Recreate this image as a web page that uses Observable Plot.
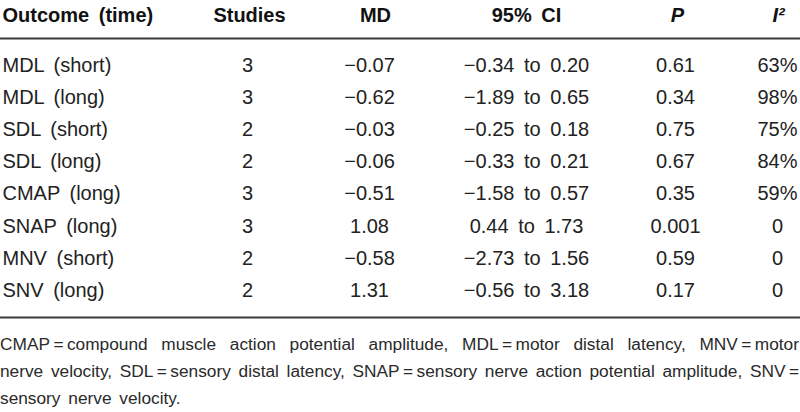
<!DOCTYPE html>
<html>
<head>
<meta charset="utf-8">
<script src="https://cdn.jsdelivr.net/npm/d3@7"></script>
<script src="https://cdn.jsdelivr.net/npm/@observablehq/plot@0.6"></script>
<style>
  html, body { margin: 0; padding: 0; background: #fff; }
  #fig { width: 800px; height: 412px; overflow: hidden; }
  .note { font-family: "Liberation Sans", Arial, sans-serif; font-size: 17.3px; line-height: 27px; color: #2a2a2a; width: 799px; }
  .note div { white-space: nowrap; }
  .note .j { text-align: justify; text-align-last: justify; }
  .note .last { word-spacing: 3px; }
</style>
</head>
<body>
<div id="fig"></div>
<script>
// ---- data ----
const headers = ["Outcome (time)", "Studies", "MD", "95% CI", "P", "I\u00B2"];
const outcomes = ["MDL (short)", "MDL (long)", "SDL (short)", "SDL (long)", "CMAP (long)", "SNAP (long)", "MNV (short)", "SNV (long)"];
const studies = [3, 3, 2, 2, 3, 3, 2, 2];
const md = [-0.07, -0.62, -0.03, -0.06, -0.51, 1.08, -0.58, 1.31];
const ciLow = [-0.34, -1.89, -0.25, -0.33, -1.58, 0.44, -2.73, -0.56];
const ciHigh = [0.20, 0.65, 0.18, 0.21, 0.57, 1.73, 1.56, 3.18];
const pValues = [0.61, 0.34, 0.75, 0.67, 0.35, 0.001, 0.59, 0.17];
const i2 = [63, 98, 75, 84, 59, 0, 0, 0];
const footnoteLines = [
  "CMAP\u2009=\u2009compound muscle action potential amplitude, MDL\u2009=\u2009motor distal latency, MNV\u2009=\u2009motor",
  "nerve velocity, SDL\u2009=\u2009sensory distal latency, SNAP\u2009=\u2009sensory nerve action potential amplitude, SNV\u2009=",
  "sensory nerve velocity."
];

// ---- layout ----
const W = 800, H = 331;
const firstRow = 65, step = 32.14;
const headerRow = -1.556, headRule = -0.84, footRule = 7.84;
const cols = [
  {key: "outcome", x: 2,   hx: 2,   anchor: "start"},
  {key: "studies", x: 247, hx: 249, anchor: "middle"},
  {key: "md",      x: 369, hx: 375, anchor: "middle"},
  {key: "ci",      x: 526, hx: 526, anchor: "middle"},
  {key: "p",       x: 675, hx: 677, anchor: "middle", italic: true},
  {key: "i2",      x: 777, hx: 778, anchor: "middle", italic: true}
];

const fmt2 = v => (v < 0 ? "\u2212" : "") + Math.abs(v).toFixed(2);
const rows = outcomes.map((o, i) => ({
  row: i,
  outcome: o,
  studies: String(studies[i]),
  md: fmt2(md[i]),
  ci: `${fmt2(ciLow[i])} to ${fmt2(ciHigh[i])}`,
  p: String(pValues[i]),
  i2: i2[i] === 0 ? "0" : i2[i] + "%"
}));
const head = headers.map((h, j) => ({label: h, ...cols[j]}));

const marks = [
  Plot.ruleY([headRule, footRule], {stroke: "#3a3a3a", strokeWidth: 2})
];
for (const c of head) {
  marks.push(Plot.text([c], {
    x: "hx", y: () => headerRow, text: "label",
    textAnchor: c.anchor, fontWeight: "bold",
    fontStyle: c.italic ? "italic" : "normal", fill: "#111"
  }));
}
for (const c of cols) {
  marks.push(Plot.text(rows, {
    x: () => c.x, y: "row", text: c.key,
    textAnchor: c.anchor, fill: "#222"
  }));
}

const svg = Plot.plot({
  width: W, height: H, margin: 0,
  x: {domain: [0, W], range: [0, W], axis: null},
  y: {domain: [-firstRow / step, (H - firstRow) / step], range: [0, H], axis: null},
  style: {fontFamily: "'Liberation Sans', Arial, sans-serif", fontSize: "20px", background: "#fff", wordSpacing: "4px"},
  marks
});

const note = document.createElement("div");
note.className = "note";
footnoteLines.forEach((t, i) => {
  const d = document.createElement("div");
  d.className = i < footnoteLines.length - 1 ? "j" : "last";
  d.textContent = t;
  note.append(d);
});

const fig = document.getElementById("fig");
fig.append(svg, note);
</script>
</body>
</html>
